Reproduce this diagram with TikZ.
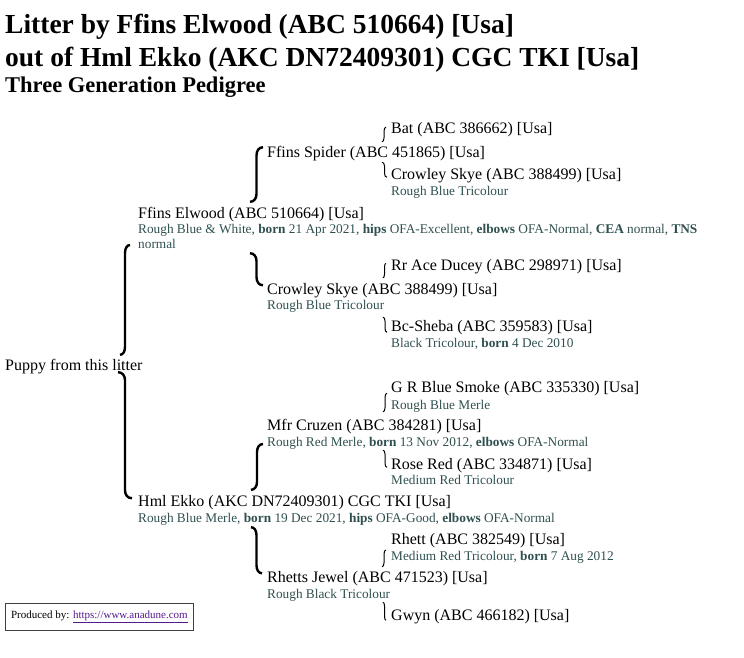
\documentclass[tikz,border=0pt]{standalone}
\usepackage{fontspec}
\setmainfont{Liberation Serif}
\usepackage{xcolor}
\usepackage{tikz}
\usetikzlibrary{calc}

\definecolor{infocol}{HTML}{2F4F4F}
\definecolor{linkcol}{HTML}{551A8B}

\tikzset{
  nm/.style={anchor=base west, inner sep=0pt, font=\fontsize{16}{18}\selectfont, text height=11pt, text depth=3.5pt},
  inf/.style={anchor=base west, inner sep=0pt, font=\fontsize{13.3}{15}\selectfont, text=infocol, text height=9pt, text depth=3pt},
  hd/.style={anchor=base west, inner sep=0pt, font=\fontsize{27.5}{30}\selectfont\bfseries},
  brkbig/.style={line width=2.4pt},
  brksmall/.style={line width=1pt},
}

% bracket: style, parent end, child end, hook (negative = child above)
\newcommand{\brk}[4]{%
  \draw[#1] (#2) coordinate (p) (#3) coordinate (c) ($(p)!.5!(c)$) coordinate (m)
    (p) .. controls ($(p)!.6!(m |- p)$) and ($(m |- p)+(0,#4*0.4)$) .. ($(m |- p)+(0,#4)$)
    -- ($(m |- c)-(0,#4)$) .. controls ($(m |- c)-(0,#4*0.4)$) and ($(c)!.6!(m |- c)$) .. (c);}

\begin{document}
\begin{tikzpicture}[x=1pt,y=-1pt]
\useasboundingbox (0,0) rectangle (744,657);

% heading
\node[hd] (ttl1) at (5,33) {Litter by Ffins Elwood (ABC 510664) [Usa]};
\node[hd] (ttl2) at (5,66) {out of Hml Ekko (AKC DN72409301) CGC TKI [Usa]};
\node[hd, font=\fontsize{22.5}{25}\selectfont\bfseries] (ttl3) at (5,92) {Three Generation Pedigree};

% generation 0
\node[nm] (puppy) at (5,370) {Puppy from this litter};

% generation 1
\node[nm] (elwood) at (138,218) {Ffins Elwood (ABC 510664) [Usa]};
\node[inf] (elwood-i) at (138,233) {Rough Blue \& White, \textbf{born} 21 Apr 2021, \textbf{hips} OFA-Excellent, \textbf{elbows} OFA-Normal, \textbf{CEA} normal, \textbf{TNS}};
\node[inf] (elwood-ii) at (138,248) {normal};
\node[nm] (ekko) at (138,506) {Hml Ekko (AKC DN72409301) CGC TKI [Usa]};
\node[inf] (ekko-i) at (138,522) {Rough Blue Merle, \textbf{born} 19 Dec 2021, \textbf{hips} OFA-Good, \textbf{elbows} OFA-Normal};

% generation 2
\node[nm] (spider) at (267,157) {Ffins Spider (ABC 451865) [Usa]};
\node[nm] (crowley2) at (267,294) {Crowley Skye (ABC 388499) [Usa]};
\node[inf] (crowley2-i) at (267,309) {Rough Blue Tricolour};
\node[nm] (cruzen) at (267,430) {Mfr Cruzen (ABC 384281) [Usa]};
\node[inf] (cruzen-i) at (267,446) {Rough Red Merle, \textbf{born} 13 Nov 2012, \textbf{elbows} OFA-Normal};
\node[nm] (jewel) at (267,582) {Rhetts Jewel (ABC 471523) [Usa]};
\node[inf] (jewel-i) at (267,598) {Rough Black Tricolour};

% generation 3
\node[nm] (bat) at (391,133) {Bat (ABC 386662) [Usa]};
\node[nm] (crowley3) at (391,179) {Crowley Skye (ABC 388499) [Usa]};
\node[inf] (crowley3-i) at (391,195) {Rough Blue Tricolour};
\node[nm] (rr) at (391,270) {Rr Ace Ducey (ABC 298971) [Usa]};
\node[nm] (bc) at (391,331) {Bc-Sheba (ABC 359583) [Usa]};
\node[inf] (bc-i) at (391,347) {Black Tricolour, \textbf{born} 4 Dec 2010};
\node[nm] (gr) at (391,392) {G R Blue Smoke (ABC 335330) [Usa]};
\node[inf] (gr-i) at (391,409) {Rough Blue Merle};
\node[nm] (rose) at (391,469) {Rose Red (ABC 334871) [Usa]};
\node[inf] (rose-i) at (391,484) {Medium Red Tricolour};
\node[nm] (rhett) at (391,544) {Rhett (ABC 382549) [Usa]};
\node[inf] (rhett-i) at (391,560) {Medium Red Tricolour, \textbf{born} 7 Aug 2012};
\node[nm] (gwyn) at (391,620) {Gwyn (ABC 466182) [Usa]};

% brackets
\brk{brkbig}{$(puppy.north -| elwood.west)+(-18,-4)$}{$(elwood-ii.west)+(-8,0)$}{-8}
\brk{brkbig}{$(puppy.south -| ekko.west)+(-20,-1.5)$}{$(ekko.west)+(-6,-4)$}{8}
\brk{brkbig}{$(elwood.north -| spider.west)+(-17,-5)$}{$(spider.west)+(-4,-6)$}{-8}
\brk{brkbig}{$(elwood-ii.south -| crowley2.west)+(-17,2)$}{$(crowley2.west)+(-4,-5)$}{8}
\brk{brkbig}{$(ekko.north -| cruzen.west)+(-16,-5)$}{$(cruzen-i.west)+(-4,1)$}{-8}
\brk{brkbig}{$(ekko-i.south -| jewel.west)+(-16,2)$}{$(jewel.west)+(-5,-5)$}{8}
\brk{brksmall}{$(spider.north -| bat.west)+(-9,-4)$}{$(bat.west)+(-5,-2)$}{-4}
\brk{brksmall}{$(spider.south -| crowley3.west)+(-9,1.5)$}{$(crowley3.west)+(-4,2)$}{4}
\brk{brksmall}{$(crowley2.north -| rr.west)+(-8,-5)$}{$(rr.west)+(-5,-3)$}{-4}
\brk{brksmall}{$(crowley2-i.south -| bc.west)+(-8,5)$}{$(bc.west)+(-4,5)$}{4}
\brk{brksmall}{$(cruzen.north -| gr.west)+(-8,-7)$}{$(gr.west)+(-4,5)$}{-4}
\brk{brksmall}{$(cruzen-i.south -| rose.west)+(-8,1)$}{$(rose.west)+(-4,2)$}{4}
\brk{brksmall}{$(jewel.north -| rhett.west)+(-9,-4)$}{$(rhett-i.west)+(-5,-7)$}{-4}
\brk{brksmall}{$(jewel-i.south -| gwyn.west)+(-8,1)$}{$(gwyn.west)+(-5,4)$}{4}

% footer
\node[draw=black!75, line width=1pt, anchor=west, inner xsep=5.5pt, minimum height=27pt, font=\fontsize{11}{13}\selectfont] (prod) at (5,616.5) {Produced by: \textcolor{linkcol}{\underline{https://www.anadune.com}}};
\end{tikzpicture}
\end{document}
